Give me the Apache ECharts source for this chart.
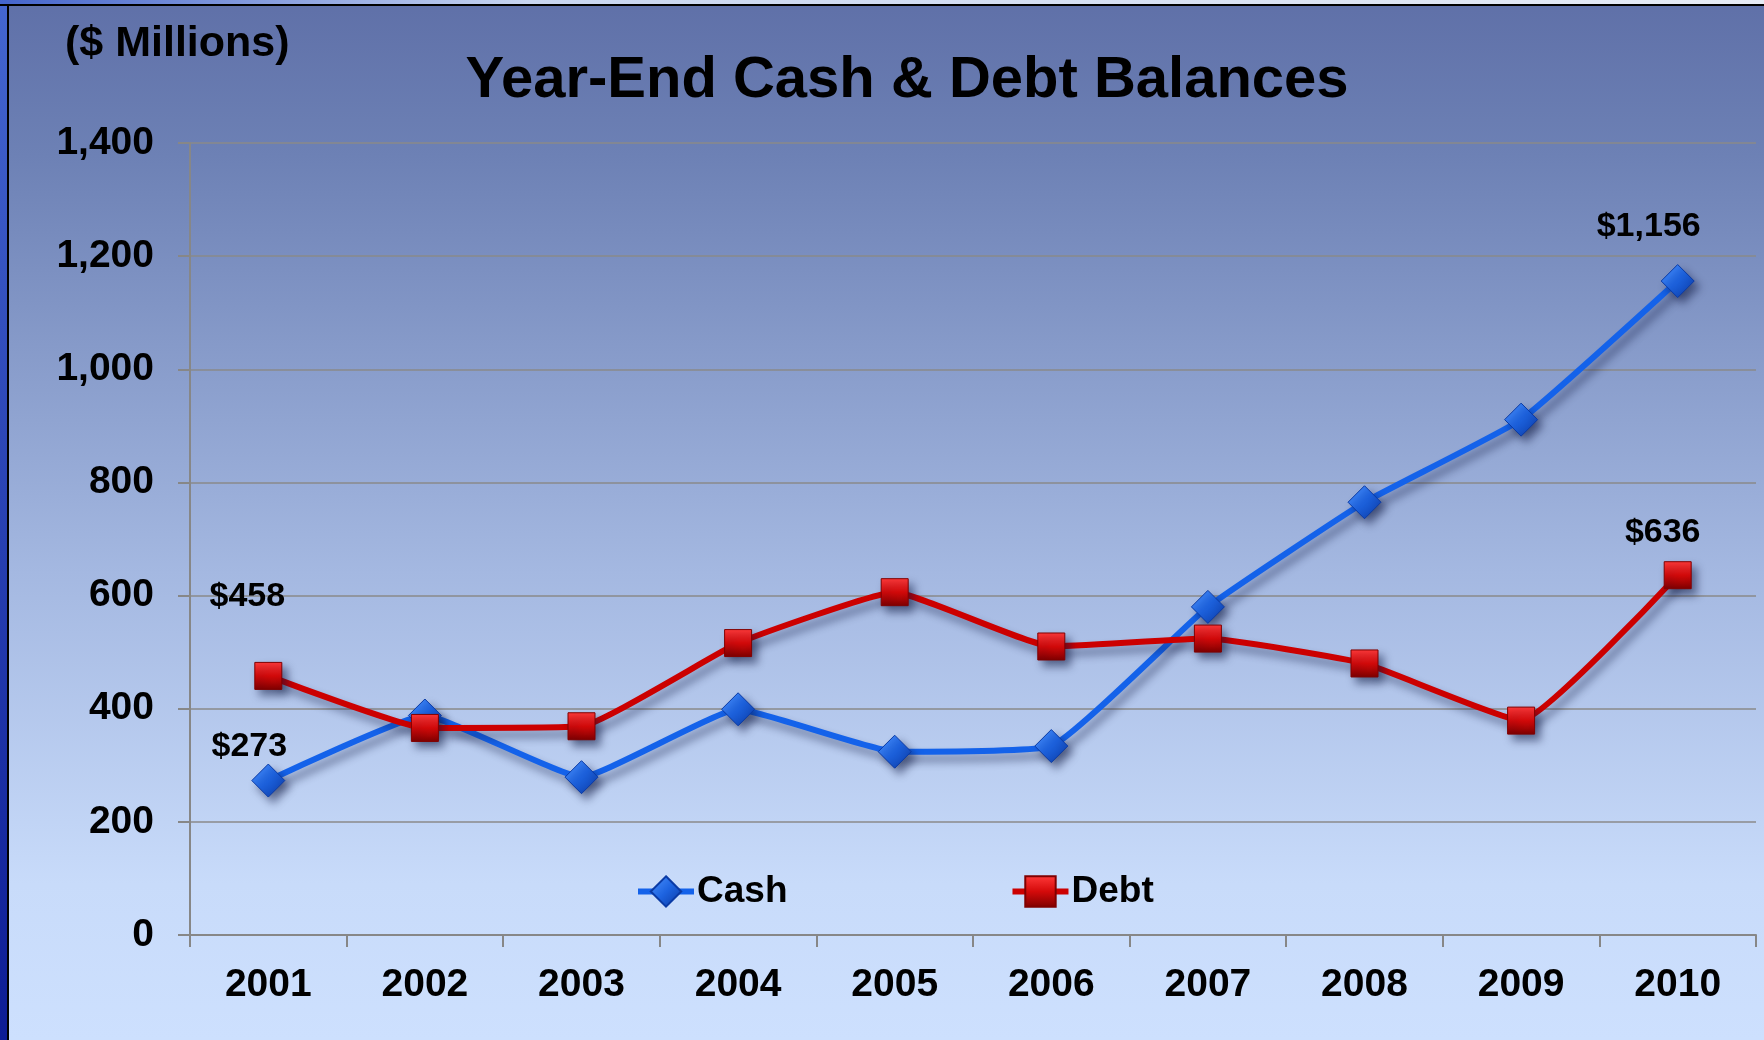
<!DOCTYPE html>
<html>
<head>
<meta charset="utf-8">
<script src="https://cdn.jsdelivr.net/npm/echarts@6/dist/echarts.min.js"></script>
<style>
html,body{margin:0;padding:0;background:#fff;}
#chart{width:1764px;height:1040px;}
</style>
</head>
<body>
<div id="chart"></div>
<script>
var years = ['2001','2002','2003','2004','2005','2006','2007','2008','2009','2010'];
var cash = [273, 388, 279, 399, 324, 334, 580, 765, 911, 1156];
var debt = [458, 366, 369, 516, 606, 510, 524, 480, 379, 636];
var yMin = 0, yMax = 1400, yStep = 200;
var titleText = 'Year-End Cash & Debt Balances';
var unitText = '($ Millions)';
var labelledIdx = [0, 9];

var FONT = '"Liberation Sans", Arial, sans-serif';
var chart = echarts.init(document.getElementById('chart'), null, {renderer: 'canvas'});

function fmt(v){ return v.toLocaleString('en-US'); }

function buildData(arr, offsets){
  return arr.map(function(v, i){
    var k = labelledIdx.indexOf(i);
    if (k < 0) return v;
    return {value: v, label: {show: true, position: 'inside', offset: offsets[k],
      formatter: function(p){ return '$' + fmt(p.value); },
      color: '#000', fontFamily: FONT, fontWeight: 'bold', fontSize: 34}};
  });
}

var blueMarker = {type:'linear', x:0, y:0, x2:1, y2:1, colorStops:[
  {offset:0, color:'#4f95ff'},{offset:0.5, color:'#1d63e0'},{offset:1, color:'#0a37a0'}]};
var redMarker = {type:'linear', x:0, y:0, x2:0, y2:1, colorStops:[
  {offset:0, color:'#ff3a3a'},{offset:0.5, color:'#d40a0a'},{offset:1, color:'#7e0000'}]};

var option = {
  animation: false,
  graphic: [
    {type:'rect', z:-100, silent:true, shape:{x:0,y:0,width:1764,height:1040},
     style:{fill:{type:'linear', x:0,y:0,x2:0,y2:1, colorStops:[
       {offset:0, color:'#5f70a8'},{offset:0.15, color:'#6d81b5'},{offset:0.55, color:'#a4b8e1'},
       {offset:0.85, color:'#c8dbfa'},{offset:1, color:'#cde0fe'}]}}},
    {type:'rect', z:-99, silent:true, shape:{x:0,y:0,width:1764,height:4},
     style:{fill:{type:'linear', x:0,y:0,x2:1,y2:0, colorStops:[
       {offset:0, color:'#4565cc'},{offset:0.3, color:'#c9d6f0'},{offset:1, color:'#e6ebf5'}]}}},
    {type:'rect', z:-98, silent:true, shape:{x:0,y:4,width:1764,height:2}, style:{fill:'#000'}},
    {type:'rect', z:-99, silent:true, shape:{x:0,y:0,width:7,height:1040},
     style:{fill:{type:'linear', x:0,y:0,x2:0,y2:1, colorStops:[
       {offset:0, color:'#4466d0'},{offset:1, color:'#0d1c95'}]}}},
    {type:'rect', z:-98, silent:true, shape:{x:7,y:4,width:2,height:1036}, style:{fill:'#000'}},
    {type:'text', z:10, silent:true, style:{text:titleText, x:907, y:81, textAlign:'center', textVerticalAlign:'middle',
      fill:'#000', font:'bold 58px ' + FONT}},
    {type:'text', z:10, silent:true, style:{text:unitText, x:65, y:44, textAlign:'left', textVerticalAlign:'middle',
      fill:'#000', font:'bold 43px ' + FONT}}
  ],
  grid: {left:190, right:8, top:143, bottom:105, containLabel:false},
  legend: {
    left: 630, top: 868, itemWidth: 56, itemHeight: 38, itemGap: 222,
    lineStyle: {width: 6},
    textStyle: {color:'#000', fontFamily: FONT, fontWeight:'bold', fontSize:37, padding:[0,0,0,-2]},
    data: ['Cash','Debt']
  },
  xAxis: {
    type:'category', data: years, boundaryGap: true,
    axisLine: {show:true, lineStyle:{color:'#878787', width:2}},
    axisTick: {show:true, interval:0, length:12, lineStyle:{color:'#878787', width:2}},
    axisLabel: {interval:0, margin:31, color:'#000', fontFamily:FONT, fontWeight:'bold', fontSize:39},
    splitLine: {show:false}
  },
  yAxis: {
    type:'value', min:yMin, max:yMax, interval:yStep,
    axisLine: {show:true, lineStyle:{color:'#878787', width:2}},
    axisTick: {show:true, length:12, lineStyle:{color:'#878787', width:2}},
    axisLabel: {margin:36, color:'#000', fontFamily:FONT, fontWeight:'bold', fontSize:39, formatter: fmt},
    splitLine: {show:true, lineStyle:{color:'#8a8a8a', width:1.5}}
  },
  series: [
    {
      name:'Cash', type:'line', smooth:0.12, z:3,
      data: buildData(cash, [[-19,-34],[-29,-54]]),
      symbol:'diamond', symbolSize:[33,33],
      lineStyle:{color:'#1462ea', width:6, shadowColor:'rgba(10,20,60,0.45)', shadowBlur:8, shadowOffsetX:5, shadowOffsetY:7},
      itemStyle:{color:blueMarker, borderColor:'#0a3aa5', borderWidth:1, shadowColor:'rgba(10,20,60,0.5)', shadowBlur:8, shadowOffsetX:5, shadowOffsetY:6}
    },
    {
      name:'Debt', type:'line', smooth:0.12, z:4,
      data: buildData(debt, [[-21,-79],[-15,-43]]),
      symbol:'rect', symbolSize:[27,27],
      lineStyle:{color:'#cc0000', width:6, shadowColor:'rgba(10,20,60,0.45)', shadowBlur:8, shadowOffsetX:5, shadowOffsetY:7},
      itemStyle:{color:redMarker, borderColor:'#800000', borderWidth:1, shadowColor:'rgba(10,20,60,0.5)', shadowBlur:8, shadowOffsetX:5, shadowOffsetY:6}
    }
  ]
};
chart.setOption(option);
</script>
</body>
</html>
